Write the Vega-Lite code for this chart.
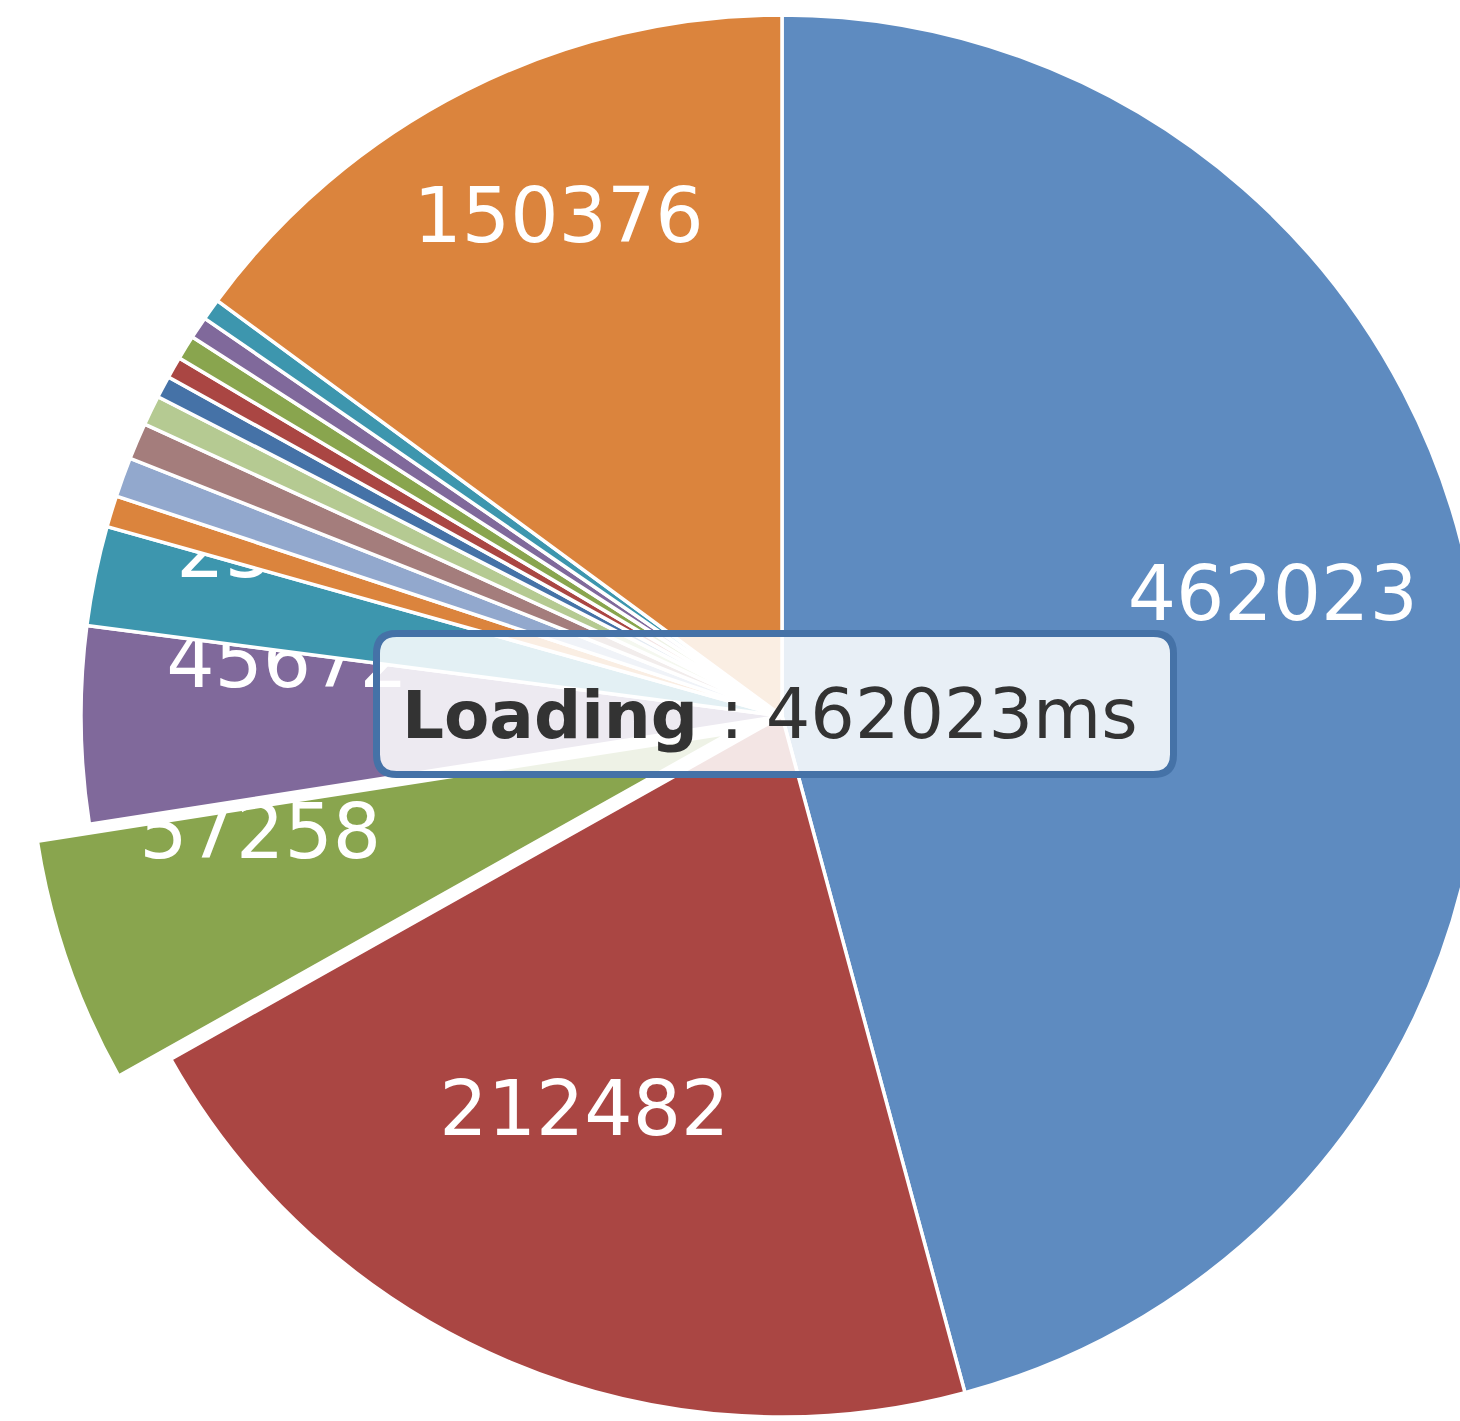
{
  "$schema": "https://vega.github.io/schema/vega-lite/v6.json",
  "width": 1356,
  "height": 1398,
  "autosize": {"type": "none"},
  "padding": {"left": 104, "top": 17, "right": 0, "bottom": 6},
  "background": "#ffffff",
  "config": {"view": {"stroke": null}},
  "data": {
    "values": [
      {"idx": 0, "name": "Loading", "value": 462023},
      {"idx": 1, "name": "Slice 2", "value": 212482},
      {"idx": 2, "name": "Slice 3", "value": 57258},
      {"idx": 3, "name": "Slice 4", "value": 45672},
      {"idx": 4, "name": "Slice 5", "value": 23140},
      {"idx": 5, "name": "Slice 6", "value": 7300},
      {"idx": 6, "name": "Slice 7", "value": 9200},
      {"idx": 7, "name": "Slice 8", "value": 8500},
      {"idx": 8, "name": "Slice 9", "value": 7000},
      {"idx": 9, "name": "Slice 10", "value": 5100},
      {"idx": 10, "name": "Slice 11", "value": 5000},
      {"idx": 11, "name": "Slice 12", "value": 5700},
      {"idx": 12, "name": "Slice 13", "value": 5100},
      {"idx": 13, "name": "Slice 14", "value": 5000},
      {"idx": 14, "name": "Slice 15", "value": 150376}
    ]
  },
  "transform": [
    {"stack": "value", "groupby": [], "sort": [{"field": "idx", "order": "ascending"}], "as": ["t0", "t1"]},
    {"joinaggregate": [{"op": "sum", "field": "value", "as": "total"}]},
    {"calculate": "datum.t0 / datum.total", "as": "a0"},
    {"calculate": "datum.t1 / datum.total", "as": "a1"},
    {"calculate": "(datum.a0 + datum.a1) / 2", "as": "am"}
  ],
  "layer": [
    {
      "transform": [{"filter": "datum.idx <= 1"}],
      "mark": {"type": "arc", "outerRadius": 701, "stroke": "#ffffff", "strokeWidth": 3.5},
      "encoding": {
        "theta": {"field": "a0", "type": "quantitative", "stack": null, "scale": {"domain": [0, 1], "range": [0, 6.283185307179586]}},
        "theta2": {"field": "a1"},
        "color": {"field": "name", "type": "nominal", "legend": null,
          "scale": {"domain": ["Loading","Slice 2","Slice 3","Slice 4","Slice 5","Slice 6","Slice 7","Slice 8","Slice 9","Slice 10","Slice 11","Slice 12","Slice 13","Slice 14","Slice 15"],
                    "range": ["#5E8BC0","#AA4643","#89A54E","#80699B","#3D96AE","#DB843D","#92A8CD","#A47D7C","#B5CA92","#4572A7","#AA4643","#89A54E","#80699B","#3D96AE","#DB843D"]}}
      }
    },
    {
      "transform": [{"filter": "datum.idx == 0"}],
      "mark": {"type": "text", "radius": 495, "dy": -54, "align": "center", "baseline": "middle", "font": "DejaVu Sans", "fontSize": 76, "color": "#ffffff"},
      "encoding": {
        "theta": {"field": "am", "type": "quantitative", "stack": null, "scale": {"domain": [0, 1], "range": [0, 6.283185307179586]}},
        "text": {"field": "value", "type": "quantitative", "format": "d"}
      }
    },
    {
      "transform": [{"filter": "datum.idx == 1"}],
      "mark": {"type": "text", "radius": 495, "dx": -6, "dy": -60, "align": "center", "baseline": "middle", "font": "DejaVu Sans", "fontSize": 76, "color": "#ffffff"},
      "encoding": {
        "theta": {"field": "am", "type": "quantitative", "stack": null, "scale": {"domain": [0, 1], "range": [0, 6.283185307179586]}},
        "text": {"field": "value", "type": "quantitative", "format": "d"}
      }
    },
    {
      "transform": [{"filter": "datum.idx == 2"}],
      "mark": {"type": "arc", "outerRadius": 701, "stroke": "#ffffff", "strokeWidth": 3.5, "xOffset": -52, "yOffset": 17},
      "encoding": {
        "theta": {"field": "a0", "type": "quantitative", "stack": null, "scale": {"domain": [0, 1], "range": [0, 6.283185307179586]}},
        "theta2": {"field": "a1"},
        "color": {"field": "name", "type": "nominal", "legend": null}
      }
    },
    {
      "transform": [{"filter": "datum.idx == 2"}],
      "mark": {"type": "text", "radius": 495, "dx": -54, "dy": -43, "align": "center", "baseline": "middle", "font": "DejaVu Sans", "fontSize": 76, "color": "#ffffff"},
      "encoding": {
        "theta": {"field": "am", "type": "quantitative", "stack": null, "scale": {"domain": [0, 1], "range": [0, 6.283185307179586]}},
        "text": {"field": "value", "type": "quantitative", "format": "d"}
      }
    },
    {
      "transform": [{"filter": "datum.idx == 3"}],
      "mark": {"type": "arc", "outerRadius": 701, "stroke": "#ffffff", "strokeWidth": 3.5},
      "encoding": {
        "theta": {"field": "a0", "type": "quantitative", "stack": null, "scale": {"domain": [0, 1], "range": [0, 6.283185307179586]}},
        "theta2": {"field": "a1"},
        "color": {"field": "name", "type": "nominal", "legend": null}
      }
    },
    {
      "transform": [{"filter": "datum.idx == 3"}],
      "mark": {"type": "text", "radius": 495, "dy": -58, "align": "center", "baseline": "middle", "font": "DejaVu Sans", "fontSize": 76, "color": "#ffffff"},
      "encoding": {
        "theta": {"field": "am", "type": "quantitative", "stack": null, "scale": {"domain": [0, 1], "range": [0, 6.283185307179586]}},
        "text": {"field": "value", "type": "quantitative", "format": "d"}
      }
    },
    {
      "transform": [{"filter": "datum.idx == 4"}],
      "mark": {"type": "arc", "outerRadius": 701, "stroke": "#ffffff", "strokeWidth": 3.5},
      "encoding": {
        "theta": {"field": "a0", "type": "quantitative", "stack": null, "scale": {"domain": [0, 1], "range": [0, 6.283185307179586]}},
        "theta2": {"field": "a1"},
        "color": {"field": "name", "type": "nominal", "legend": null}
      }
    },
    {
      "transform": [{"filter": "datum.idx == 4"}],
      "mark": {"type": "text", "radius": 495, "dy": -63, "align": "center", "baseline": "middle", "font": "DejaVu Sans", "fontSize": 76, "color": "#ffffff"},
      "encoding": {
        "theta": {"field": "am", "type": "quantitative", "stack": null, "scale": {"domain": [0, 1], "range": [0, 6.283185307179586]}},
        "text": {"field": "value", "type": "quantitative", "format": "d"}
      }
    },
    {
      "transform": [{"filter": "datum.idx >= 5"}],
      "mark": {"type": "arc", "outerRadius": 701, "stroke": "#ffffff", "strokeWidth": 3.5},
      "encoding": {
        "theta": {"field": "a0", "type": "quantitative", "stack": null, "scale": {"domain": [0, 1], "range": [0, 6.283185307179586]}},
        "theta2": {"field": "a1"},
        "color": {"field": "name", "type": "nominal", "legend": null}
      }
    },
    {
      "transform": [{"filter": "datum.idx == 14"}],
      "mark": {"type": "text", "radius": 495, "dy": -55, "align": "center", "baseline": "middle", "font": "DejaVu Sans", "fontSize": 76, "color": "#ffffff"},
      "encoding": {
        "theta": {"field": "am", "type": "quantitative", "stack": null, "scale": {"domain": [0, 1], "range": [0, 6.283185307179586]}},
        "text": {"field": "value", "type": "quantitative", "format": "d"}
      }
    },
    {
      "transform": [{"filter": "datum.idx == 0"}],
      "mark": {"type": "point", "shape": "M -0.94625,-0.17625 L 0.94625,-0.17625 Q 0.99625,-0.17625 0.99625,-0.12625 L 0.99625,0.12625 Q 0.99625,0.17625 0.94625,0.17625 L -0.94625,0.17625 Q -0.99625,0.17625 -0.99625,0.12625 L -0.99625,-0.12625 Q -0.99625,-0.17625 -0.94625,-0.17625 Z",
        "size": 640000, "filled": true, "fill": "#ffffff", "fillOpacity": 0.86, "stroke": "#4572A7", "strokeWidth": 7, "strokeOpacity": 1, "opacity": 1, "xOffset": -7, "yOffset": -12},
      "encoding": {}
    },
    {
      "transform": [{"filter": "datum.idx == 0"}],
      "mark": {"type": "text", "align": "right", "baseline": "alphabetic", "dx": -84, "dy": 22, "font": "DejaVu Sans", "fontWeight": "bold", "fontSize": 66, "color": "#333333"},
      "encoding": {"text": {"field": "name", "type": "nominal"}}
    },
    {
      "transform": [{"filter": "datum.idx == 0"}, {"calculate": "': ' + datum.value + 'ms'", "as": "tip"}],
      "mark": {"type": "text", "align": "left", "baseline": "alphabetic", "dx": -62, "dy": 22, "font": "DejaVu Sans", "fontSize": 70, "color": "#333333"},
      "encoding": {"text": {"field": "tip", "type": "nominal"}}
    }
  ]
}
